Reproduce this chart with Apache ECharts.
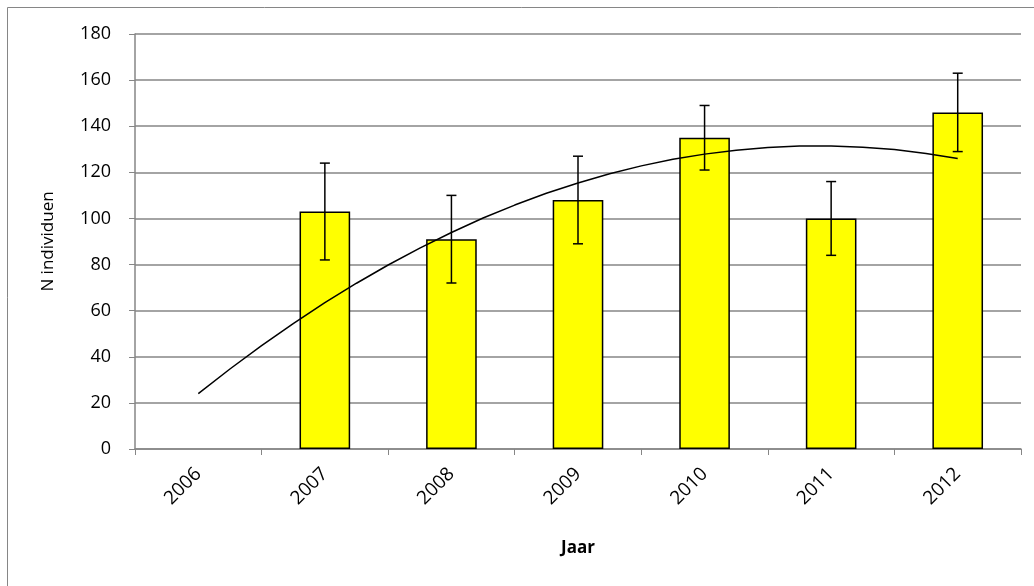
<!DOCTYPE html>
<html>
<head>
<meta charset="utf-8">
<script src="https://cdn.jsdelivr.net/npm/echarts@6/dist/echarts.min.js"></script>
<style>
html,body{margin:0;padding:0;background:#fff;}
#chart{width:1034px;height:586px;}
</style>
</head>
<body>
<div id="chart"></div>
<script>
var categories = ['2006','2007','2008','2009','2010','2011','2012'];
var values = [null, 103, 91, 108, 135, 100, 146];
var errLow = [null, 82, 72, 89, 121, 84, 129];
var errHigh = [null, 124, 110, 127, 149, 116, 163];
var trendX = [0, 0.25, 0.5, 0.75, 1, 1.25, 1.5, 1.75, 2, 2.25, 2.5, 2.75, 3, 3.25, 3.5, 3.75, 4, 4.25, 4.5, 4.75, 5, 5.25, 5.5, 5.75, 6];
var trendY = [24, 34.7, 44.8, 54.4, 63.5, 71.9, 79.8, 87.1, 93.9, 100.2, 105.8, 110.9, 115.4, 119.4, 122.8, 125.7, 127.9, 129.6, 130.8, 131.4, 131.4, 130.9, 129.9, 128.2, 126];
var yTicks = {min: 0, max: 180, interval: 20};

var FONT = '"Open Sans", "Liberation Sans", sans-serif';
var chart = echarts.init(document.getElementById('chart'));
var errData = categories.map(function(c, i){ return [i, errLow[i], errHigh[i]]; }).filter(function(d){ return d[1] != null; });
var trendData = trendX.map(function(x, i){ return [x, trendY[i]]; });

chart.setOption({
  animation: false,
  backgroundColor: '#fff',
  graphic: [{
    type: 'rect', shape: {x: 7.5, y: 7.5, width: 1040, height: 600},
    style: {fill: 'none', stroke: '#868686', lineWidth: 1}, silent: true, z: -1
  }],
  grid: {left: 135, right: 13, top: 34, bottom: 137, containLabel: false},
  xAxis: [{
    type: 'category', data: categories,
    axisLine: {lineStyle: {color: '#868686', width: 1.5}},
    axisTick: {show: true, alignWithLabel: false, length: 6, lineStyle: {color: '#868686'}},
    axisLabel: {rotate: 45, color: '#000', fontFamily: FONT, fontSize: 19, margin: 22, interval: 0},
    name: 'Jaar', nameLocation: 'middle', nameGap: 91,
    nameTextStyle: {fontWeight: 'bold', color: '#000', fontFamily: FONT, fontSize: 17}
  }, {
    type: 'value', min: -0.5, max: 6.5, show: false
  }],
  yAxis: {
    type: 'value', min: yTicks.min, max: yTicks.max, interval: yTicks.interval,
    axisLine: {show: true, onZero: false, lineStyle: {color: '#868686', width: 1.5}},
    axisTick: {show: true, length: 6, lineStyle: {color: '#868686'}},
    splitLine: {show: true, lineStyle: {color: '#868686', width: 1.5}},
    axisLabel: {color: '#000', fontFamily: FONT, fontSize: 18, margin: 24},
    name: 'N individuen', nameLocation: 'middle', nameGap: 78, nameRotate: 90,
    nameTextStyle: {color: '#000', fontFamily: FONT, fontSize: 17}
  },
  series: [{
    type: 'bar', data: values, barWidth: '40%', xAxisIndex: 0,
    itemStyle: {color: '#ffff00', borderColor: '#000', borderWidth: 1.5}
  }, {
    type: 'custom', xAxisIndex: 0, data: errData, z: 5,
    renderItem: function(params, api){
      var lo = api.coord([api.value(0), api.value(1)]);
      var hi = api.coord([api.value(0), api.value(2)]);
      var w = 5;
      var st = {stroke: '#000', lineWidth: 1.5};
      return {type: 'group', children: [
        {type: 'line', shape: {x1: hi[0], y1: hi[1], x2: lo[0], y2: lo[1]}, style: st},
        {type: 'line', shape: {x1: hi[0]-w, y1: hi[1], x2: hi[0]+w, y2: hi[1]}, style: st},
        {type: 'line', shape: {x1: lo[0]-w, y1: lo[1], x2: lo[0]+w, y2: lo[1]}, style: st}
      ]};
    }
  }, {
    type: 'line', xAxisIndex: 1, data: trendData, smooth: false, showSymbol: false, z: 6,
    lineStyle: {color: '#000', width: 1.5}
  }]
});
</script>
</body>
</html>
